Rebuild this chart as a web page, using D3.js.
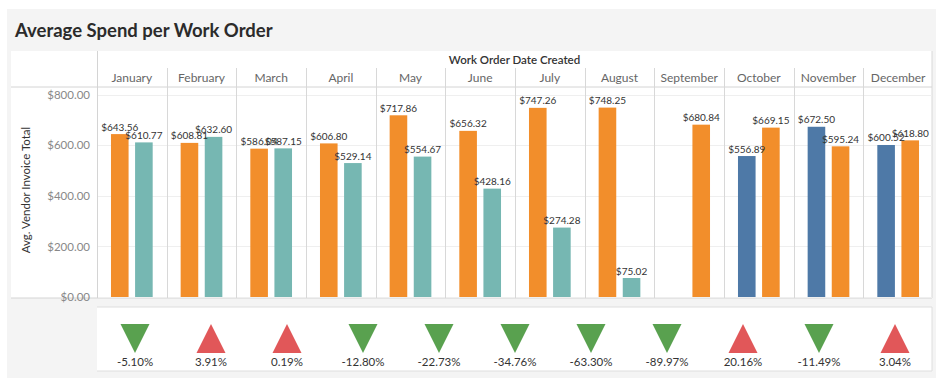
<!DOCTYPE html>
<html>
<head>
<meta charset="utf-8">
<script src="https://cdn.jsdelivr.net/npm/d3@7"></script>
<style>
  html, body { margin: 0; padding: 0; background: #fff; }
  svg { display: block; }
  text { font-family: "Lato", "Open Sans", sans-serif; }
</style>
</head>
<body>
<svg id="chart" width="936" height="378"></svg>
<script>
// ---- data ----
const months = ["January","February","March","April","May","June","July","August","September","October","November","December"];
const priorValues   = [643.56, 608.81, 586.04, 606.80, 717.86, 656.32, 747.26, 748.25, null, 556.89, 672.50, 600.52];
const currentValues = [610.77, 632.60, 587.15, 529.14, 554.67, 428.16, 274.28, 75.02, 680.84, 669.15, 595.24, 618.80];
const priorYears    = [2020,2020,2020,2020,2020,2020,2020,2020,2019,2019,2019,2019];
const currentYears  = [2021,2021,2021,2021,2021,2021,2021,2021,2020,2020,2020,2020];
const yTicks = [0, 200, 400, 600, 800];
const pctChanges = [-5.10, 3.91, 0.19, -12.80, -22.73, -34.76, -63.30, -89.97, 20.16, -11.49, 3.04];

const yearColor = d3.scaleOrdinal().domain([2019, 2020, 2021]).range(["#4e79a7", "#f28e2b", "#76b7b2"]);
const locale = d3.formatLocale({ decimal: ".", thousands: ",", grouping: [3], currency: ["$", ""], minus: "-" });
const fmt = locale.format("$,.2f");
const pfmt = locale.format(".2f");

// ---- layout ----
const svg = d3.select("#chart");
const paneLeft = 97, paneRight = 933;
const yTop = 94.5, yBottom = 297;

// background
svg.append("rect").attr("x", 7).attr("y", 9).attr("width", 929).attr("height", 369).attr("fill", "#f4f4f4");
svg.append("text").attr("x", 15).attr("y", 37).attr("font-size", 18.5).attr("font-weight", 700)
  .attr("fill", "#2b2b2b").text("Average Spend per Work Order");

// main panel
svg.append("rect").attr("x", 11).attr("y", 51).attr("width", 921).attr("height", 247).attr("fill", "#fff");
svg.append("line").attr("x1", 11).attr("x2", 932).attr("y1", 298).attr("y2", 298).attr("stroke", "#d4d4d4");
svg.append("line").attr("x1", 932).attr("x2", 932).attr("y1", 51).attr("y2", 298).attr("stroke", "#d8d8d8");

const x = d3.scaleBand().domain(months).range([paneLeft, paneRight]).padding(0);
const slot = d3.scaleBand().domain([0, 1]).range([0, x.bandwidth()]).paddingInner(0.27).paddingOuter(0.58);
const y = d3.scaleLinear().domain([0, 800]).range([yBottom, yTop]);

// header
svg.append("text").attr("x", (paneLeft + 932) / 2).attr("y", 64).attr("text-anchor", "middle")
  .attr("font-size", 11.5).attr("font-weight", 600).attr("fill", "#333").text("Work Order Date Created");

// gridlines
svg.append("g").selectAll("line").data(yTicks).join("line")
  .attr("x1", paneLeft).attr("x2", 932)
  .attr("y1", d => Math.round(y(d)) + 0.5).attr("y2", d => Math.round(y(d)) + 0.5)
  .attr("stroke", "#efefef");

// header line
svg.append("line").attr("x1", 11).attr("x2", 932).attr("y1", 87).attr("y2", 87).attr("stroke", "#d4d4d4");

// month dividers
svg.append("line").attr("x1", paneLeft + 0.5).attr("x2", paneLeft + 0.5).attr("y1", 51).attr("y2", 298).attr("stroke", "#d4d4d4");
svg.append("g").selectAll("line").data(months.slice(1)).join("line")
  .attr("x1", d => Math.round(x(d)) + 0.5).attr("x2", d => Math.round(x(d)) + 0.5)
  .attr("y1", 68).attr("y2", 298).attr("stroke", "#d8d8d8");

// month labels
svg.append("g").selectAll("text").data(months).join("text")
  .attr("x", d => x(d) + x.bandwidth() / 2).attr("y", 82).attr("text-anchor", "middle")
  .attr("font-size", 12).attr("fill", "#666").text(d => d);

// y axis
const yAxis = d3.axisLeft(y).tickValues(yTicks).tickFormat(fmt).tickSize(0).tickPadding(0);
const gAxis = svg.append("g").attr("transform", "translate(90,0)").call(yAxis);
gAxis.select(".domain").remove();
gAxis.selectAll("text").attr("font-size", 11.5).attr("fill", "#888").attr("font-family", "Lato, 'Open Sans', sans-serif");

svg.append("text").attr("transform", "translate(30,190) rotate(-90)").attr("text-anchor", "middle")
  .attr("font-size", 11.5).attr("fill", "#333").text("Avg. Vendor Invoice Total");

// bars
const bars = [];
months.forEach((m, i) => {
  if (priorValues[i] != null) bars.push({ m, s: 0, v: priorValues[i], yr: priorYears[i] });
  if (currentValues[i] != null) bars.push({ m, s: 1, v: currentValues[i], yr: currentYears[i] });
});
const gBars = svg.append("g");
gBars.selectAll("rect").data(bars).join("rect")
  .attr("x", d => x(d.m) + slot(d.s)).attr("width", slot.bandwidth())
  .attr("y", d => y(d.v)).attr("height", d => y(0) - y(d.v))
  .attr("fill", d => yearColor(d.yr));
gBars.selectAll("text").data(bars).join("text")
  .attr("x", d => x(d.m) + slot(d.s) + slot.bandwidth() / 2).attr("y", d => y(d.v) - 3.5)
  .attr("text-anchor", "middle").attr("font-size", 10).attr("fill", "#333").text(d => fmt(d.v));

// bottom KPI panel
svg.append("rect").attr("x", paneLeft).attr("y", 307).attr("width", 835).attr("height", 64).attr("fill", "#fff");
svg.append("line").attr("x1", paneLeft).attr("x2", 932).attr("y1", 307).attr("y2", 307).attr("stroke", "#dedede");
svg.append("line").attr("x1", paneLeft).attr("x2", 932).attr("y1", 371).attr("y2", 371).attr("stroke", "#dedede");
svg.append("line").attr("x1", 932).attr("x2", 932).attr("y1", 307).attr("y2", 371).attr("stroke", "#dedede");

const kx = d3.scaleBand().domain(d3.range(pctChanges.length)).range([paneLeft, 933]);
const kpi = svg.append("g").selectAll("g").data(pctChanges).join("g")
  .attr("transform", (d, i) => `translate(${kx(i) + kx.bandwidth() / 2},0)`);
const tw = 14.5, tTop = 324, tBot = 353;
kpi.append("path")
  .attr("d", d => d < 0
    ? `M${-tw},${tTop}L${tw},${tTop}L0,${tBot}Z`
    : `M0,${tTop}L${-tw},${tBot}L${tw},${tBot}Z`)
  .attr("fill", d => d < 0 ? "#59a14f" : "#e15759");
kpi.append("text").attr("y", 366).attr("text-anchor", "middle").attr("font-size", 11.5).attr("fill", "#333")
  .text(d => pfmt(d) + "%");
</script>
</body>
</html>
